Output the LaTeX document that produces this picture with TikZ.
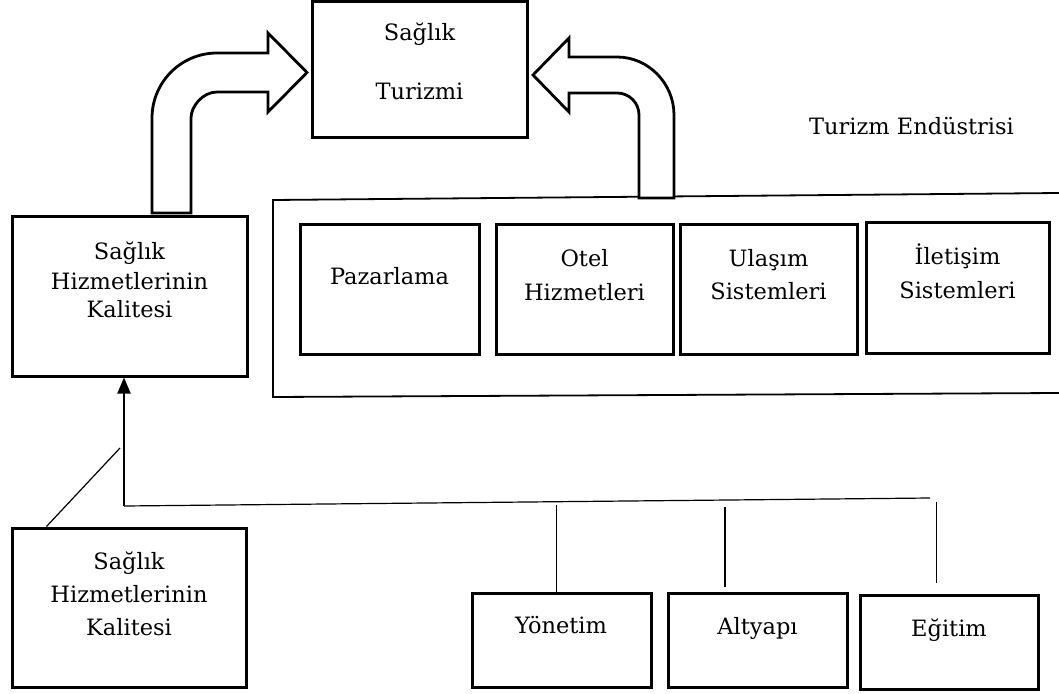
\documentclass[tikz,border=0pt]{standalone}
\usepackage{fontspec}
\setmainfont{DejaVu Serif}
\usetikzlibrary{arrows.meta}
\begin{document}
\begin{tikzpicture}[x=1pt,y=-1pt,
  box/.style={draw, line width=3pt, rectangle, inner sep=0pt},
  txt/.style={anchor=base, inner sep=0pt, font=\fontsize{22.5}{30}\selectfont},
  thinline/.style={line width=1.2pt},
  frameline/.style={line width=1.8pt},
  bigarrow/.style={draw, line width=2.8pt, fill=white, line join=miter}]
\useasboundingbox (0,0) rectangle (1059,693);

% boxes
\node[box, minimum width=215pt, minimum height=135pt] (tur) at (419.5,69.5) {};
\node[box, minimum width=235pt, minimum height=160pt] (shk1) at (129.5,296) {};
\node[box, minimum width=234pt, minimum height=159pt] (shk2) at (129,607.5) {};
\node[box, minimum width=179pt, minimum height=130pt] (pz) at (389.5,289) {};
\node[box, minimum width=177pt, minimum height=130pt] (otel) at (584.5,289) {};
\node[box, minimum width=177pt, minimum height=130pt] (ul) at (768.5,289) {};
\node[box, minimum width=183pt, minimum height=131pt] (il) at (957.5,287.5) {};
\node[box, minimum width=179pt, minimum height=94pt] (yon) at (561.5,640) {};
\node[box, minimum width=179pt, minimum height=94pt] (alt) at (757.5,640) {};
\node[box, minimum width=178pt, minimum height=94pt] (egt) at (949,642) {};

% texts
\node[txt] (tur1) at (419.5,41) {Sağlık};
\node[txt] (tur2) at (419.5,99) {Turizmi};
\node[txt] (te) at (911.5,134) {Turizm Endüstrisi};
\node[txt] (pz1) at (389.5,284) {Pazarlama};
\node[txt] (ot1) at (584.5,266) {Otel};
\node[txt] (ot2) at (584.5,300) {Hizmetleri};
\node[txt] (ul1) at (768.5,266) {Ulaşım};
\node[txt] (ul2) at (768.5,299) {Sistemleri};
\node[txt] (il1) at (957.5,264) {İletişim};
\node[txt] (il2) at (957.5,298) {Sistemleri};
\node[txt] (sa1) at (129.5,259) {Sağlık};
\node[txt] (sa2) at (129.5,289) {Hizmetlerinin};
\node[txt] (sa3) at (129.5,317) {Kalitesi};
\node[txt] (sb1) at (129,569) {Sağlık};
\node[txt] (sb2) at (129,602) {Hizmetlerinin};
\node[txt] (sb3) at (129,635) {Kalitesi};
\node[txt] (yo1) at (561,633) {Yönetim};
\node[txt] (al1) at (757.5,634) {Altyapı};
\node[txt] (eg1) at (949,636) {Eğitim};

% industry frame (open on the right)
\coordinate (fr1) at (1059,193);
\coordinate (fr2) at (273,200);
\coordinate (fr3) at (273,397);
\coordinate (fr4) at (1059,393);
\draw[frameline] (fr1) -- (fr2) -- (fr3) -- (fr4);

% bent block arrows
\draw[bigarrow] (152,213) -- (152,118) .. controls (152,82.1) and (181.1,53) .. (217,53)
  -- (268,53) -- (268,33) -- (307,72.5) -- (268,112) -- (268,92) -- (217,92)
  .. controls (202.6,92) and (191,106.4) .. (191,118) -- (191,213) -- cycle;
\draw[bigarrow] (674,198) -- (674,115) .. controls (674,83.5) and (648.5,57) .. (617,57)
  -- (569,57) -- (569,38) -- (533,75) -- (569,112) -- (569,93) -- (617,93)
  .. controls (629.2,93) and (639,102.8) .. (639,115) -- (639,198) -- cycle;

% connectors
\coordinate (j) at (124,506);
\coordinate (hend) at (930,498);
\draw[line width=2.2pt, -{Triangle[length=16pt,width=13pt]}] (j) -- (j |- shk1.south);
\draw[thinline] (j) -- (hend);
\coordinate (yt) at (556.7,505);
\draw[thinline] (yt) -- (yt |- yon.north);
\coordinate (at) at (725,507);
\draw[thinline, shorten >=5pt] (at) -- (at |- alt.north);
\coordinate (et) at (936.7,501.7);
\draw[thinline, shorten >=11pt] (et) -- (et |- egt.north);
\coordinate (dg) at (120,448);
\draw[thinline] (dg) -- ([xshift=36pt]shk2.north west);
\end{tikzpicture}
\end{document}
